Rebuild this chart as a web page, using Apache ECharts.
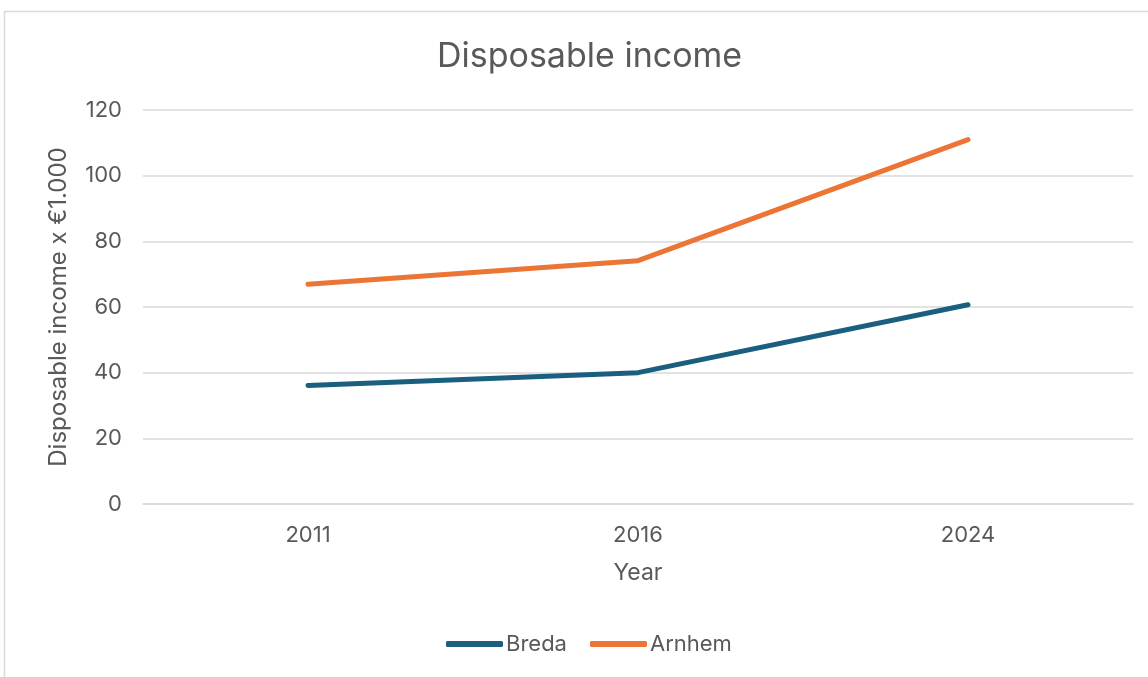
<!DOCTYPE html>
<html>
<head>
<meta charset="utf-8">
<script src="https://cdn.jsdelivr.net/npm/echarts@6/dist/echarts.min.js"></script>
<style>
  html, body { margin: 0; padding: 0; background: #ffffff; }
  #chart { width: 1148px; height: 677px; }
</style>
</head>
<body>
<div id="chart"></div>
<script>
// Disposable income per city, x €1.000
const years = ['2011', '2016', '2024'];
const breda = [36.1, 40.0, 60.7];
const arnhem = [66.9, 74.1, 111.0];
const yTicks = { min: 0, max: 120, interval: 20 };

const FONT = 'Inter, "Open Sans", "Liberation Sans", sans-serif';
const TEXT = '#595959';

const chart = echarts.init(document.getElementById('chart'), null, { renderer: 'canvas' });

chart.setOption({
  backgroundColor: '#ffffff',
  animation: false,
  graphic: [{
    type: 'rect',
    shape: { x: 4.5, y: 11.5, width: 1160, height: 700 },
    style: { fill: 'none', stroke: '#d9d9d9', lineWidth: 1.5 },
    silent: true
  }],
  title: {
    text: 'Disposable income',
    left: 432,
    top: 35,
    textStyle: { fontFamily: FONT, fontSize: 34, fontWeight: 'normal', color: TEXT }
  },
  legend: {
    bottom: 17,
    left: 441,
    itemWidth: 57,
    itemHeight: 6,
    itemGap: 23,
    icon: 'roundRect',
    textStyle: { fontFamily: FONT, fontSize: 22, color: TEXT, padding: [0, 0, 0, -2] },
    data: ['Breda', 'Arnhem']
  },
  grid: { left: 143, right: 15, top: 110, bottom: 173, containLabel: false },
  xAxis: {
    type: 'category',
    data: years,
    boundaryGap: true,
    name: 'Year',
    nameLocation: 'middle',
    nameGap: 58,
    nameTextStyle: { fontFamily: FONT, fontSize: 23, color: TEXT },
    axisLine: { show: true, lineStyle: { color: '#d9d9d9', width: 1.5 } },
    axisTick: { show: false },
    axisLabel: { fontFamily: FONT, fontSize: 22, color: TEXT, margin: 20 }
  },
  yAxis: {
    type: 'value',
    min: yTicks.min,
    max: yTicks.max,
    interval: yTicks.interval,
    name: 'Disposable income x €1.000',
    nameLocation: 'middle',
    nameGap: 72,
    nameTextStyle: { fontFamily: FONT, fontSize: 24, color: TEXT },
    axisLine: { show: false },
    axisTick: { show: false },
    axisLabel: { fontFamily: FONT, fontSize: 22, color: TEXT, margin: 21 },
    splitLine: { lineStyle: { color: '#d9d9d9', width: 1.5 } }
  },
  series: [
    {
      name: 'Breda',
      type: 'line',
      data: breda,
      symbol: 'none',
      lineStyle: { width: 5, color: '#1a5e80', cap: 'round', join: 'round' },
      itemStyle: { color: '#1a5e80' }
    },
    {
      name: 'Arnhem',
      type: 'line',
      data: arnhem,
      symbol: 'none',
      lineStyle: { width: 5, color: '#ec7434', cap: 'round', join: 'round' },
      itemStyle: { color: '#ec7434' }
    }
  ]
});
</script>
</body>
</html>
